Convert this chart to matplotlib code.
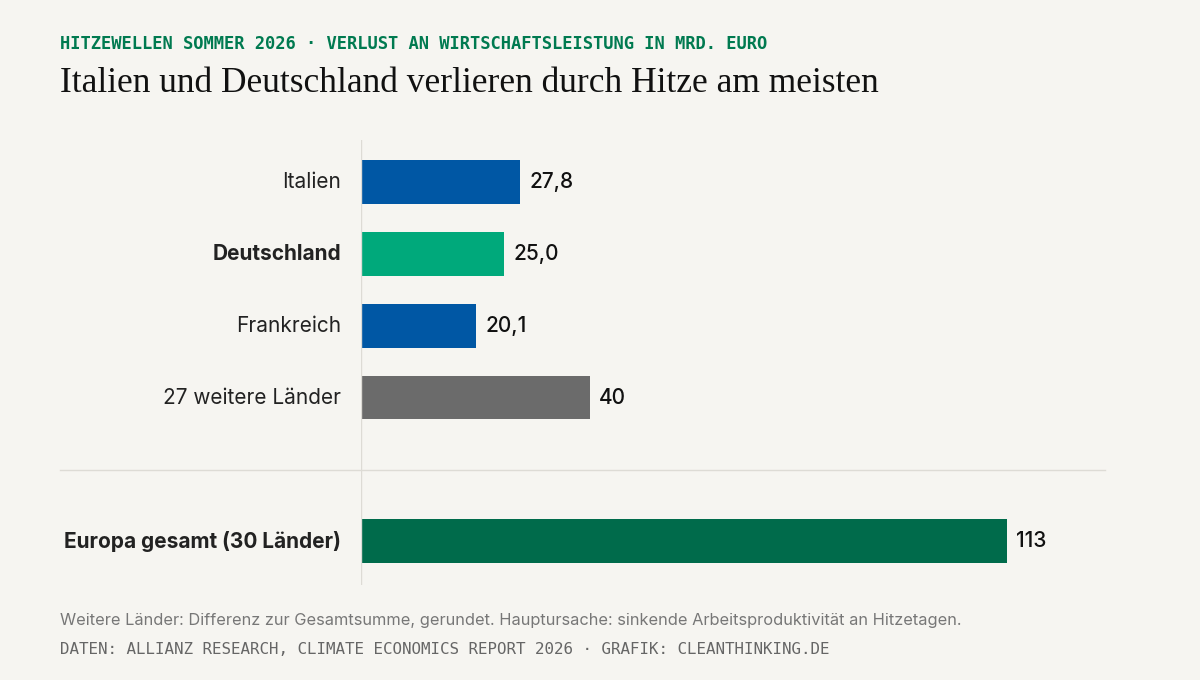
import matplotlib
matplotlib.use("Agg")
import matplotlib.pyplot as plt

labels = ["Italien", "Deutschland", "Frankreich", "27 weitere Länder", "Europa gesamt (30 Länder)"]
values = [27.8, 25.0, 20.1, 40, 113]
value_labels = ["27,8", "25,0", "20,1", "40", "113"]
positions = [0, 1, 2, 3, 5]
colors = ["#0057a4", "#00a97b", "#0057a4", "#6b6b6b", "#006b4b"]
bold = [False, True, False, False, True]

BG = "#f6f5f1"
plt.rcParams["font.family"] = ["Inter", "DejaVu Sans"]

fig = plt.figure(figsize=(12, 6.8), dpi=100, facecolor=BG)
ax = fig.add_axes([361 / 1200, 1 - 585 / 680, 745 / 1200, 445 / 680])
ax.set_facecolor(BG)

ax.barh(positions, values, height=0.61, color=colors)
for p, v, t in zip(positions, values, value_labels):
    ax.text(v + 1.6, p, t, va="center", ha="left", fontsize=15, fontweight="medium", color="#111111")
for p, l, b in zip(positions, labels, bold):
    ax.text(-3.5, p, l, va="center", ha="right", fontsize=15,
            fontweight="bold" if b else "normal", color="#222222")

ax.set_xlim(0, 130.3)
ax.set_ylim(5.61, -0.585)
ax.axis("off")
ax.axvline(0, color="#dddbd5", linewidth=1)

fig.add_artist(plt.Line2D([60 / 1200, 1105 / 1200], [1 - 470 / 680] * 2,
                          color="#dddbd5", linewidth=1))

fig.text(60 / 1200, 1 - 44 / 680, "HITZEWELLEN SOMMER 2026 · VERLUST AN WIRTSCHAFTSLEISTUNG IN MRD. EURO",
         family="DejaVu Sans Mono", fontsize=12.3, color="#007a50", va="center", fontweight="bold")
fig.text(60 / 1200, 1 - 84 / 680, "Italien und Deutschland verlieren durch Hitze am meisten",
         family=["Liberation Serif", "DejaVu Serif"], fontsize=25.5,
         color="#111111", va="center")
fig.text(60 / 1200, 1 - 621 / 680,
         "Weitere Länder: Differenz zur Gesamtsumme, gerundet. Hauptursache: sinkende Arbeitsproduktivität an Hitzetagen.",
         fontsize=11.8, color="#777777", va="center")
fig.text(60 / 1200, 1 - 650 / 680, "DATEN: ALLIANZ RESEARCH, CLIMATE ECONOMICS REPORT 2026 · GRAFIK: CLEANTHINKING.DE",
         family="DejaVu Sans Mono", fontsize=11.4, color="#666666", va="center")

fig.savefig("out.png", dpi=100, facecolor=BG)
